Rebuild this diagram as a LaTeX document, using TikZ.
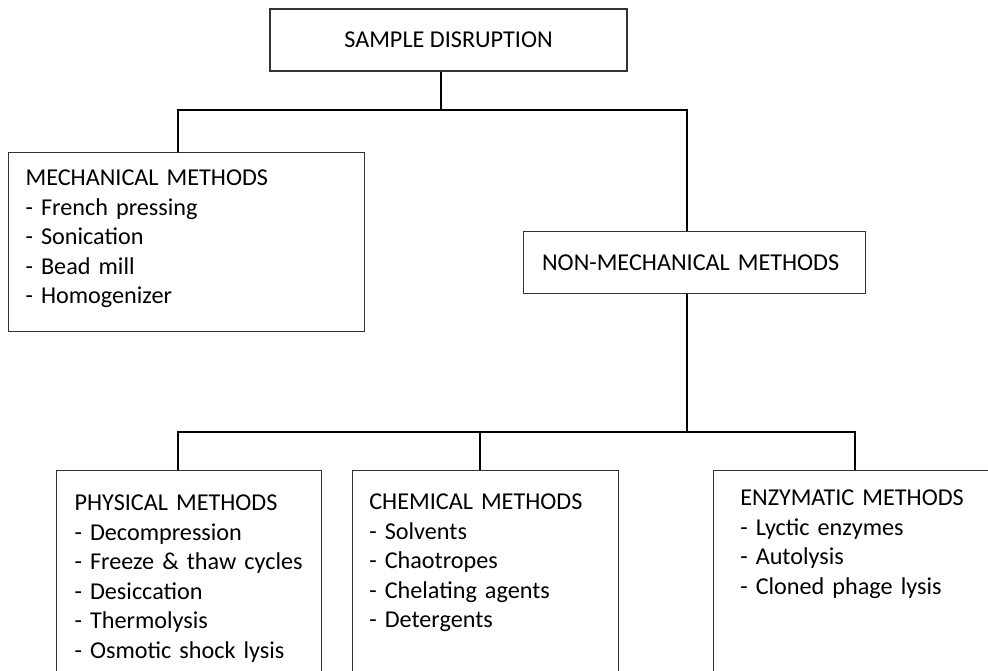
\documentclass[tikz,border=0pt]{standalone}
\usepackage{fontspec}
\setmainfont{Carlito}
\begin{document}
\begin{tikzpicture}[x=1pt, y=-1pt,
  box/.style={draw=black!80, line width=1.2pt, font=\fontsize{24.2}{29.5}\selectfont},
  listbox/.style={box, anchor=north west, align=left, inner ysep=0pt},
  link/.style={line width=2pt}]
\useasboundingbox (0,0) rectangle (988,670);
\node[box, minimum width=357, minimum height=62] (top) at (448.5,40){SAMPLE DISRUPTION};
\node[listbox, text width=322, inner xsep=17, text height=33, text depth=146] (mech) at (8,152){MECHANICAL METHODS\\- French pressing\\- Sonication\\- Bead mill\\- Homogenizer};
\node[box, anchor=north west, align=left, text width=305, inner xsep=18.5, minimum height=62] (nonmech) at (523,231){NON-MECHANICAL METHODS};
\node[listbox, text width=229, inner xsep=18, text height=40, text depth=250] (phys) at (56,470){PHYSICAL METHODS\\- Decompression\\- Freeze \& thaw cycles\\- Desiccation\\- Thermolysis\\- Osmotic shock lysis};
\node[listbox, text width=232, inner xsep=17, text height=39, text depth=250] (chem) at (351.7,470){CHEMICAL METHODS\\- Solvents\\- Chaotropes\\- Chelating agents\\- Detergents};
\node[listbox, text width=242, inner xsep=27, text height=35, text depth=250] (enz) at (712.7,470){ENZYMATIC METHODS\\- Lyctic enzymes\\- Autolysis\\- Cloned phage lysis};
\coordinate (srcT) at (441,110);
\coordinate (dropM) at (178,110);
\coordinate (dropN) at (686.5,110);
\coordinate (srcN) at (686.5,432);
\coordinate (dropP) at (178,432);
\coordinate (dropC) at (479.5,432);
\coordinate (dropE) at (854.5,432);
\draw[link](top.south -| srcT) -- (srcT);
\draw[link](mech.north -| dropM) |- (dropN) -- (nonmech.north -| dropN);
\draw[link](nonmech.south -| srcN) -- (srcN);
\draw[link](phys.north -| dropP) |- (dropE) -- (enz.north -| dropE);
\draw[link](chem.north -| dropC) -- (dropC);
\end{tikzpicture}
\end{document}
